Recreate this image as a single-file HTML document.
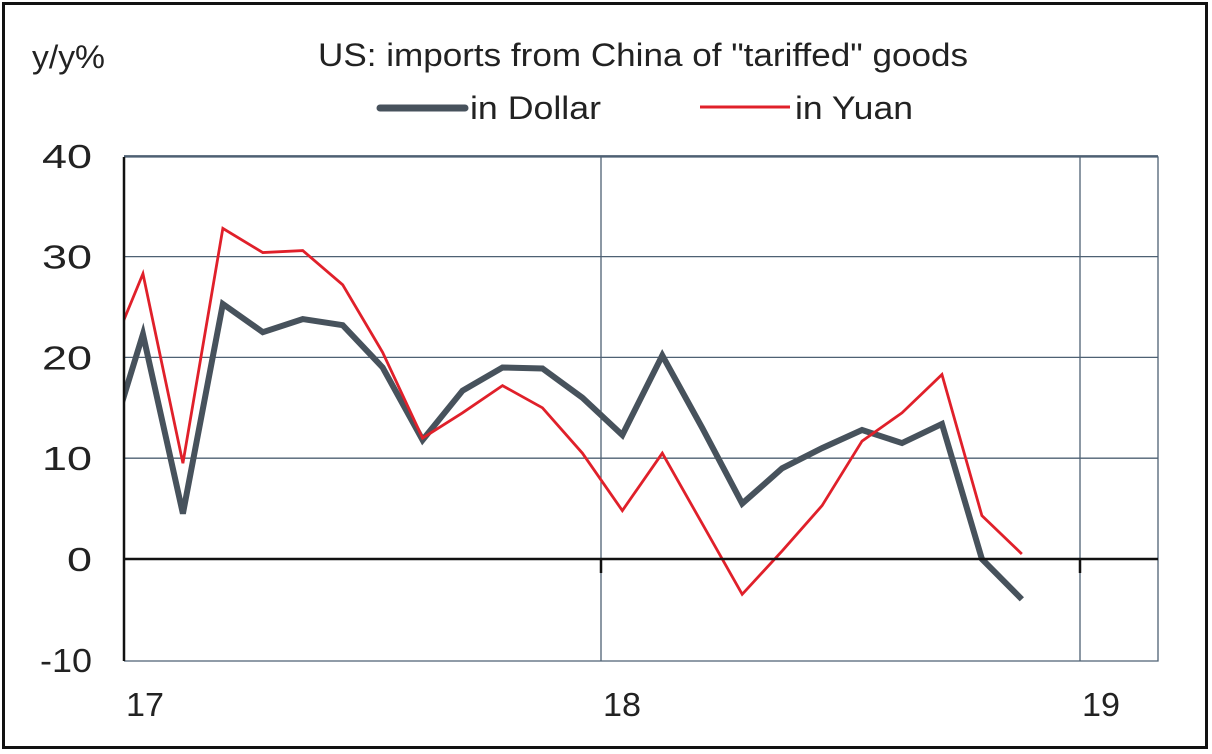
<!DOCTYPE html>
<html><head><meta charset="utf-8"><style>
body{margin:0;background:#fff;}
svg{display:block;font-family:"Liberation Sans",Arial,sans-serif;}
</style></head><body>
<svg id="chart" width="1212" height="754">
<rect x="3.5" y="3.5" width="1203" height="744" fill="none" stroke="#111" stroke-width="3"/>
<text x="32" y="68" font-size="32" fill="#222" textLength="73" lengthAdjust="spacingAndGlyphs">y/y%</text>
<text x="318" y="66" font-size="32" fill="#222" textLength="650" lengthAdjust="spacingAndGlyphs">US: imports from China of "tariffed" goods</text>
<g>
<line x1="380" y1="108" x2="465" y2="108" stroke="#47525c" stroke-width="7" stroke-linecap="round"/>
<text x="470" y="119" font-size="32" fill="#222" textLength="131" lengthAdjust="spacingAndGlyphs">in Dollar</text>
</g>
<g>
<line x1="700" y1="107" x2="790" y2="107" stroke="#e0202a" stroke-width="3"/>
<text x="795" y="119" font-size="32" fill="#222" textLength="118" lengthAdjust="spacingAndGlyphs">in Yuan</text>
</g>
<g id="grid"></g>
<g id="series"></g>
<g id="axes"></g>
</svg>
<script>
const months=["Jan17","Feb17","Mar17","Apr17","May17","Jun17","Jul17","Aug17","Sep17","Oct17","Nov17","Dec17","Jan18","Feb18","Mar18","Apr18","May18","Jun18","Jul18","Aug18","Sep18","Oct18","Nov18","Dec18"];
const dollar=[9.4,22.3,4.5,25.3,22.5,23.8,23.2,19,11.8,16.7,19,18.9,16,12.3,20.2,13,5.5,9,11,12.8,11.5,13.4,0,-4];
const yuan=[18.7,28.3,9.5,32.8,30.4,30.6,27.2,20.5,12,14.5,17.2,15,10.5,4.8,10.5,3.5,-3.5,0.8,5.3,11.7,14.5,18.3,4.3,0.5];
const yTicks=[40,30,20,10,0,-10];
const xTickLabels=["17","18","19"];
const NS="http://www.w3.org/2000/svg";
const L=124,R=1158,T=157,B=661;
const y=v=>559-(v)*10.08;
const x=i=>103+i*39.95;
function mk(t,a,p){const e=document.createElementNS(NS,t);for(const k in a)e.setAttribute(k,a[k]);p.appendChild(e);return e;}
const grid=document.getElementById('grid'),axes=document.getElementById('axes'),ser=document.getElementById('series');
const svg=document.getElementById('chart');
const defs=mk('defs',{},svg);const cp=mk('clipPath',{id:'pc'},defs);mk('rect',{x:L,y:0,width:R-L,height:754},cp);
yTicks.forEach(v=>{
 if(v!==0&&v!==-10){const g=mk('line',{x1:L,x2:R,y1:y(v),y2:y(v),stroke:'#4e6173','stroke-width':1.3},grid);
 
 }
 const s=String(v);
 const t=mk('text',{x:92,y:y(v)+12,'font-size':33,fill:'#222','text-anchor':'end',textLength:s.length*25-(v<0?23:0),lengthAdjust:'spacingAndGlyphs'},axes);t.textContent=s;
 
 
});
xTickLabels.forEach((s,k)=>{
 const gx=k===0?L:(k===1?601:1080);
 if(k>0){const g=mk('line',{x1:gx,x2:gx,y1:T,y2:B,stroke:'#4e6173','stroke-width':1.3},grid);
 
 
 const tk=mk('line',{x1:gx,x2:gx,y1:y(0),y2:y(0)+14,stroke:'#111','stroke-width':2.5},axes);
 
 }
 const t=mk('text',{x:gx+2,y:716,'font-size':33,fill:'#222',textLength:38,lengthAdjust:'spacingAndGlyphs'},axes);t.textContent=s;
 
 
});
const fr=mk('path',{d:`M${L},${T}H${R}V${B}H${L}`,fill:'none',stroke:'#4e6173','stroke-width':1.3},grid);


const ya=mk('line',{x1:L,x2:L,y1:T,y2:B,stroke:'#111','stroke-width':2.5},axes);


const za=mk('line',{x1:L,x2:R,y1:y(0),y2:y(0),stroke:'#111','stroke-width':2.5},axes);


function line(vals,col,w,name){
 const p=mk('polyline',{points:vals.map((v,i)=>x(i)+','+y(v)).join(' '),fill:'none',stroke:col,'stroke-width':w,'stroke-linejoin':'miter','clip-path':'url(#pc)'},ser);
 
 
}
line(dollar,'#47525c',6,'dollar-line');
line(yuan,'#e0202a',2.8,'yuan-line');
</script>
</body></html>
